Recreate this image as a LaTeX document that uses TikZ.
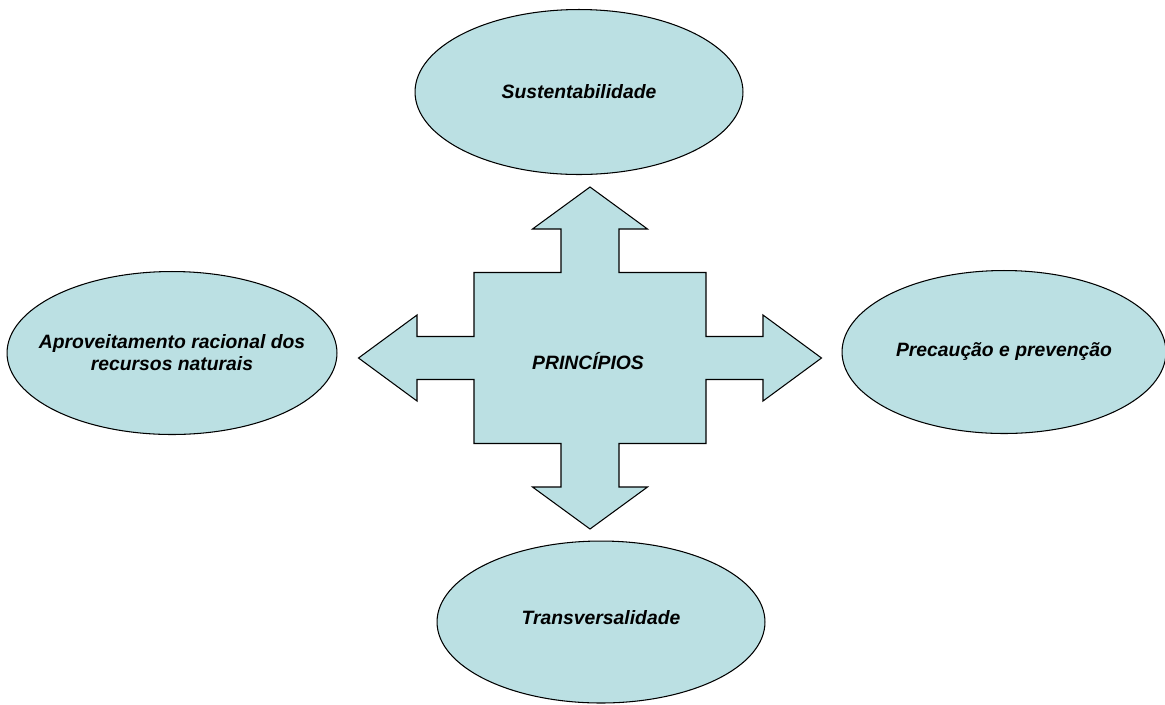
\documentclass[tikz,border=0pt]{standalone}
\usepackage{fontspec}
\setmainfont{Liberation Sans}
\usepackage{tikz}
\usetikzlibrary{shapes.geometric}

\begin{document}
\begin{tikzpicture}[
        x=0.02cm,y=-0.02cm,
        principle/.style={draw,ellipse,line width=0.6pt,fill=cyanpale,inner sep=0pt,minimum width=6.56cm,minimum height=3.3cm},
        caption/.style={font=\fontsize{11}{12.5}\selectfont\bfseries\itshape,align=center},
        quadarrow/.style={draw,line width=0.6pt,fill=cyanpale,line join=miter}
    ]
    \definecolor{cyanpale}{RGB}{187,224,227}
    \useasboundingbox (0,0) rectangle (1165,704);

    % central four-way arrow
    \begin{scope}[shift={(590,358)}]
        \draw[quadarrow] (0,-171) -- (57.5,-129) -- (29,-129) -- (29,-85.5) -- (116,-85.5) -- (116,-21.5)
            -- (173,-21.5) -- (173,-43) -- (231.5,0) -- (173,43) -- (173,21.5) -- (116,21.5)
            -- (116,85.5) -- (29,85.5) -- (29,129) -- (57.5,129) -- (0,171) -- (-57.5,129)
            -- (-29,129) -- (-29,85.5) -- (-116,85.5) -- (-116,21.5) -- (-173,21.5) -- (-173,43)
            -- (-231.5,0) -- (-173,-43) -- (-173,-21.5) -- (-116,-21.5) -- (-116,-85.5) -- (-29,-85.5)
            -- (-29,-129) -- (-57.5,-129) -- cycle;
        \node[caption] (principios) at (-2,3) {PRINCÍPIOS};
    \end{scope}

    \node[principle,label={[caption]center:Sustentabilidade}] (sustentabilidade) at (579,92) {};
    \node[principle,minimum width=6.6cm,minimum height=3.26cm,label={[caption]center:{Aproveitamento racional dos\\recursos naturais}}] (aproveitamento) at (172,353) {};
    \node[principle,minimum width=6.48cm,minimum height=3.26cm,label={[caption]center:Precaução e prevenção}] (precaucao) at (1004,352) {};
    \node[principle,minimum height=3.24cm,label={[caption,yshift=0.08cm]center:Transversalidade}] (transversalidade) at (601,622) {};

\end{tikzpicture}
\end{document}
